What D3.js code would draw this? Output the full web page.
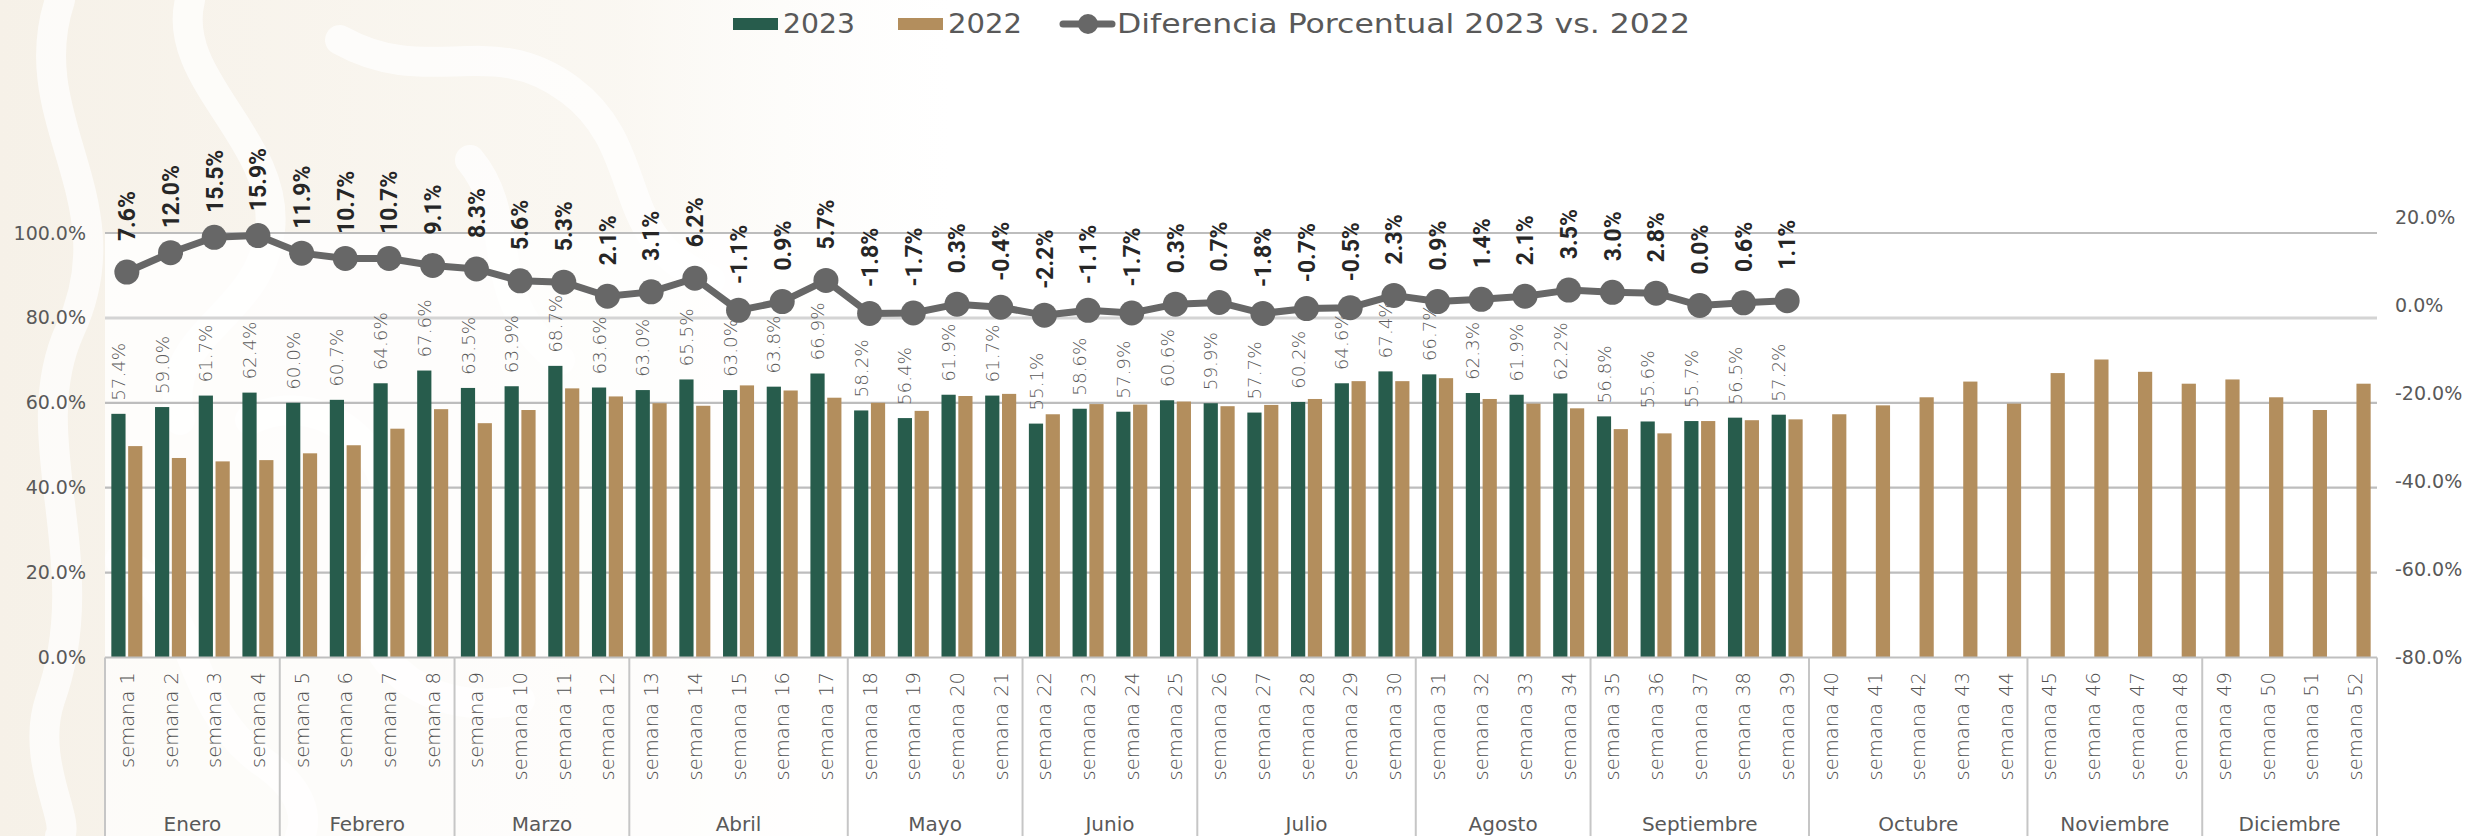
<!DOCTYPE html>
<html>
<head>
<meta charset="utf-8">
<script src="https://cdn.jsdelivr.net/npm/d3@7"></script>
<style>
  html, body { margin: 0; padding: 0; background: #ffffff; }
  svg { display: block; }
  text { font-family: "DejaVu Sans", "Noto Sans", sans-serif; }
</style>
</head>
<body>
<div id="chart"></div>
<script>
// Week labels and month groups
const weekLabels = [
  "semana 1", "semana 2", "semana 3", "semana 4", "semana 5", "semana 6", "semana 7", "semana 8",
  "semana 9", "semana 10", "semana 11", "semana 12", "semana 13", "semana 14", "semana 15", "semana 16",
  "semana 17", "semana 18", "semana 19", "semana 20", "semana 21", "semana 22", "semana 23", "semana 24",
  "semana 25", "semana 26", "semana 27", "semana 28", "semana 29", "semana 30", "semana 31", "semana 32",
  "semana 33", "semana 34", "semana 35", "semana 36", "semana 37", "semana 38", "semana 39", "semana 40",
  "semana 41", "semana 42", "semana 43", "semana 44", "semana 45", "semana 46", "semana 47", "semana 48",
  "semana 49", "semana 50", "semana 51", "semana 52"
];
const months = ["Enero", "Febrero", "Marzo", "Abril", "Mayo", "Junio", "Julio", "Agosto",
  "Septiembre", "Octubre", "Noviembre", "Diciembre"];
const weeksPerMonth = [4, 4, 4, 5, 4, 4, 5, 4, 5, 5, 4, 4];

// 2023 values (weeks 1-39)
const values2023 = [
  57.4, 59.0, 61.7, 62.4, 60.0, 60.7, 64.6, 67.6, 63.5, 63.9, 68.7, 63.6, 63.0,
  65.5, 63.0, 63.8, 66.9, 58.2, 56.4, 61.9, 61.7, 55.1, 58.6, 57.9, 60.6, 59.9,
  57.7, 60.2, 64.6, 67.4, 66.7, 62.3, 61.9, 62.2, 56.8, 55.6, 55.7, 56.5, 57.2
];

// 2022 values (weeks 1-52)
const values2022 = [
  49.8, 47.0, 46.2, 46.5, 48.1, 50.0, 53.9, 58.5, 55.2, 58.3, 63.4, 61.5, 59.9,
  59.3, 64.1, 62.9, 61.2, 60.0, 58.1, 61.6, 62.1, 57.3, 59.7, 59.6, 60.3, 59.2,
  59.5, 60.9, 65.1, 65.1, 65.8, 60.9, 59.8, 58.7, 53.8, 52.8, 55.7, 55.9, 56.1,
  57.3, 59.4, 61.3, 65.0, 59.8, 67.0, 70.2, 67.3, 64.5, 65.5, 61.3, 58.3, 64.5
];

// Diferencia porcentual 2023 vs. 2022 (weeks 1-39)
const diffValues = [
  7.6, 12.0, 15.5, 15.9, 11.9, 10.7, 10.7, 9.1, 8.3, 5.6, 5.3, 2.1, 3.1,
  6.2, -1.1, 0.9, 5.7, -1.8, -1.7, 0.3, -0.4, -2.2, -1.1, -1.7, 0.3, 0.7,
  -1.8, -0.7, -0.5, 2.3, 0.9, 1.4, 2.1, 3.5, 3.0, 2.8, 0.0, 0.6, 1.1
];

const leftTicks = [0, 20, 40, 60, 80, 100];
const rightTicks = [-80, -60, -40, -20, 0, 20];

const green = "#275C4C";
const tan = "#B38E5D";
const lineGray = "#676767";

const width = 2476, height = 836;
const plot = { left: 105, right: 2377, top: 233, bottom: 657.5 };

const svg = d3.select("#chart")
  .append("svg")
  .attr("width", width)
  .attr("height", height);

// Background ornament (soft beige swirls on the left)
const defs = svg.append("defs");
const grad = defs.append("linearGradient").attr("id", "bgFade")
  .attr("x1", "0%").attr("x2", "100%").attr("y1", "0%").attr("y2", "0%");
grad.append("stop").attr("offset", "0%").attr("stop-color", "#F6F1E8").attr("stop-opacity", 1);
grad.append("stop").attr("offset", "65%").attr("stop-color", "#F8F4EC").attr("stop-opacity", 0.7);
grad.append("stop").attr("offset", "100%").attr("stop-color", "#FBF9F5").attr("stop-opacity", 0);

svg.append("rect")
  .attr("width", 950).attr("height", height)
  .attr("fill", "url(#bgFade)");

const swirls = [
  "M 60 0 C 20 120, 130 200, 70 330 C 20 440, 100 560, 50 700 C 30 760, 70 820, 60 836",
  "M 190 0 C 170 80, 280 140, 270 230 C 260 320, 160 330, 180 420",
  "M 340 40 C 430 90, 490 30, 570 90 C 650 150, 610 240, 710 280",
  "M 250 420 C 330 380, 420 470, 380 560 C 340 650, 420 720, 520 700",
  "M 120 560 C 200 600, 180 700, 260 760 C 320 800, 300 836, 300 836",
  "M 470 160 C 520 220, 480 300, 560 360"
];
svg.append("g")
  .selectAll("path")
  .data(swirls)
  .join("path")
  .attr("d", d => d)
  .attr("fill", "none")
  .attr("stroke", "#ffffff")
  .attr("stroke-width", 30)
  .attr("stroke-linecap", "round")
  .attr("opacity", 0.7);

// Plot area and category area lightened
svg.append("rect")
  .attr("x", plot.left).attr("y", plot.top)
  .attr("width", plot.right - plot.left).attr("height", plot.bottom - plot.top)
  .attr("fill", "#ffffff").attr("opacity", 0.8);
svg.append("rect")
  .attr("x", plot.left).attr("y", plot.bottom)
  .attr("width", plot.right - plot.left).attr("height", height - plot.bottom)
  .attr("fill", "#ffffff").attr("opacity", 0.7);

// Scales
const x0 = d3.scaleBand()
  .domain(weekLabels)
  .range([plot.left, plot.right])
  .paddingInner(0.29)
  .paddingOuter(0.145);

const x1 = d3.scaleBand()
  .domain(["2023", "2022"])
  .range([0, x0.bandwidth()])
  .paddingInner(0.155);

const yLeft = d3.scaleLinear().domain([0, 100]).range([plot.bottom, plot.top]);
const yRight = d3.scaleLinear().domain([-80, 20]).range([plot.bottom, 217.5]);

// Gridlines
svg.append("g")
  .selectAll("line")
  .data(leftTicks.filter(d => d > 0))
  .join("line")
  .attr("x1", plot.left).attr("x2", plot.right)
  .attr("y1", d => yLeft(d)).attr("y2", d => yLeft(d))
  .attr("stroke", d => d === 80 ? "#D4D4D4" : "#BDBDBD")
  .attr("stroke-width", d => d === 80 ? 3 : 2.2);

// Left axis
const leftAxis = svg.append("g")
  .attr("transform", `translate(${plot.left},0)`)
  .call(d3.axisLeft(yLeft).tickValues(leftTicks).tickSize(0).tickPadding(19)
    .tickFormat(d => d.toFixed(1) + "%"));
leftAxis.select(".domain").remove();
leftAxis.selectAll("text")
  .style("font-family", "DejaVu Sans")
  .style("font-size", "19px")
  .attr("fill", "#595959");

// Right axis
const rightAxis = svg.append("g")
  .attr("transform", `translate(${plot.right},0)`)
  .call(d3.axisRight(yRight).tickValues(rightTicks).tickSize(0).tickPadding(18)
    .tickFormat(d => d.toFixed(1) + "%"));
rightAxis.select(".domain").remove();
rightAxis.selectAll("text")
  .style("font-family", "DejaVu Sans")
  .style("font-size", "19px")
  .attr("fill", "#595959");

// Bars
const weekData = weekLabels.map((w, i) => ({
  week: w,
  v2023: i < values2023.length ? values2023[i] : null,
  v2022: values2022[i]
}));

const groups = svg.append("g")
  .selectAll("g")
  .data(weekData)
  .join("g")
  .attr("transform", d => `translate(${x0(d.week)},0)`);

groups.filter(d => d.v2023 !== null)
  .append("rect")
  .attr("x", x1("2023"))
  .attr("y", d => yLeft(d.v2023))
  .attr("width", x1.bandwidth())
  .attr("height", d => plot.bottom - yLeft(d.v2023))
  .attr("fill", green);

groups.append("rect")
  .attr("x", x1("2022"))
  .attr("y", d => yLeft(d.v2022))
  .attr("width", x1.bandwidth())
  .attr("height", d => plot.bottom - yLeft(d.v2022))
  .attr("fill", tan);

// Category axis (weeks)
const xAxis = svg.append("g")
  .attr("transform", `translate(0,${plot.bottom})`)
  .call(d3.axisBottom(x0).tickSize(0));
xAxis.select(".domain").remove();
xAxis.selectAll("text")
  .attr("transform", "rotate(-90)")
  .attr("x", -14.5)
  .attr("y", 0)
  .attr("dy", "0.36em")
  .attr("text-anchor", "end")
  .style("font-family", "DejaVu Sans")
  .style("font-size", "19.5px")
  .style("font-weight", 300)
  .attr("fill", "#505050");

// Axis baseline
svg.append("line")
  .attr("x1", plot.left).attr("x2", plot.right)
  .attr("y1", plot.bottom).attr("y2", plot.bottom)
  .attr("stroke", "#BFBFBF").attr("stroke-width", 2.2);

// Month boxes
const monthData = [];
let startIdx = 0;
months.forEach((m, i) => {
  const first = weekLabels[startIdx];
  const last = weekLabels[startIdx + weeksPerMonth[i] - 1];
  const half = x0.step() * x0.paddingInner() / 2;
  monthData.push({
    name: m,
    x0: x0(first) - half,
    x1: x0(last) + x0.bandwidth() + half
  });
  startIdx += weeksPerMonth[i];
});

const seps = [monthData[0].x0].concat(monthData.map(d => d.x1));
svg.append("g")
  .selectAll("line")
  .data(seps)
  .join("line")
  .attr("x1", d => d).attr("x2", d => d)
  .attr("y1", plot.bottom).attr("y2", height)
  .attr("stroke", "#C6C6C6").attr("stroke-width", 2);

svg.append("g")
  .selectAll("text")
  .data(monthData)
  .join("text")
  .attr("x", d => (d.x0 + d.x1) / 2)
  .attr("y", 831)
  .attr("text-anchor", "middle")
  .style("font-size", "20px")
  .attr("fill", "#595959")
  .text(d => d.name);

// 2023 bar labels
groups.filter(d => d.v2023 !== null)
  .append("text")
  .attr("transform", d => `translate(${x1("2023") + x1.bandwidth() / 2},${yLeft(d.v2023) - 13}) rotate(-90)`)
  .attr("dy", "0.36em")
  .attr("text-anchor", "start")
  .style("font-size", "18.3px")
  .style("font-weight", 300)
  .attr("fill", "#5a5a5a")
  .text(d => d.v2023.toFixed(1) + "%");

// Line series
const lineData = diffValues.map((v, i) => ({ week: weekLabels[i], value: v }));
const cx = d => x0(d.week) + x0.bandwidth() / 2;

svg.append("path")
  .datum(lineData)
  .attr("fill", "none")
  .attr("stroke", lineGray)
  .attr("stroke-width", 7)
  .attr("stroke-linejoin", "round")
  .attr("d", d3.line().x(cx).y(d => yRight(d.value)));

svg.append("g")
  .selectAll("circle")
  .data(lineData)
  .join("circle")
  .attr("cx", cx)
  .attr("cy", d => yRight(d.value))
  .attr("r", 12.5)
  .attr("fill", lineGray);

svg.append("g")
  .selectAll("text")
  .data(lineData)
  .join("text")
  .attr("transform", d => `translate(${cx(d)},${yRight(d.value) - 56}) rotate(-90)`)
  .attr("dy", "0.36em")
  .attr("text-anchor", "middle")
  .style("font-family", "Roboto, 'DejaVu Sans', sans-serif")
  .style("font-size", "23px")
  .style("font-weight", "bold")
  .attr("fill", "#262626")
  .text(d => d.value.toFixed(1) + "%");

// Legend
const legend = svg.append("g");
const legendY = 24;
legend.append("rect").attr("x", 733).attr("y", legendY - 6).attr("width", 45).attr("height", 12).attr("fill", green);
legend.append("text").attr("x", 783).attr("y", legendY).attr("dy", "0.36em")
  .style("font-size", "26px").attr("fill", "#595959")
  .attr("textLength", 72).attr("lengthAdjust", "spacingAndGlyphs").text("2023");
legend.append("rect").attr("x", 898).attr("y", legendY - 6).attr("width", 45).attr("height", 12).attr("fill", tan);
legend.append("text").attr("x", 948).attr("y", legendY).attr("dy", "0.36em")
  .style("font-size", "26px").attr("fill", "#595959")
  .attr("textLength", 74).attr("lengthAdjust", "spacingAndGlyphs").text("2022");
legend.append("line").attr("x1", 1063).attr("x2", 1112).attr("y1", legendY).attr("y2", legendY)
  .attr("stroke", lineGray).attr("stroke-width", 7).attr("stroke-linecap", "round");
legend.append("circle").attr("cx", 1088).attr("cy", legendY).attr("r", 10).attr("fill", lineGray);
legend.append("text").attr("x", 1117).attr("y", legendY).attr("dy", "0.36em")
  .style("font-size", "26px").attr("fill", "#595959")
  .attr("textLength", 573).attr("lengthAdjust", "spacingAndGlyphs")
  .text("Diferencia Porcentual 2023 vs. 2022");
</script>
</body>
</html>
